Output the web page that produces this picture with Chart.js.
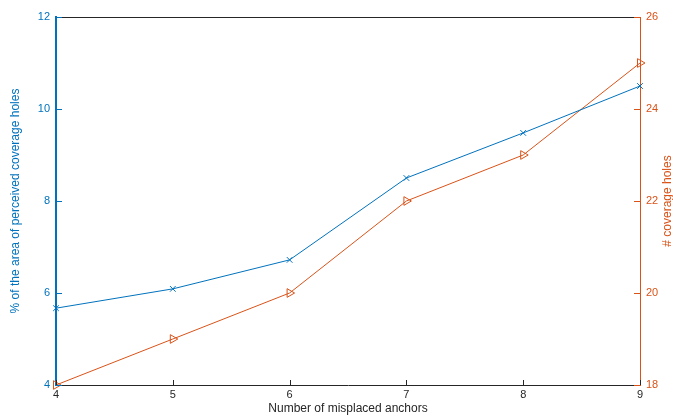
<html lang="en">
<head>
<meta charset="UTF-8">
<title>Misplaced anchors</title>
<script src="https://cdn.jsdelivr.net/npm/chart.js"></script>
<style>
  body { margin: 0; background: #fff; }
  #wrap { width: 673px; height: 416px; }
</style>
</head>
<body>
<div id="wrap"><canvas id="chart" width="673" height="416"></canvas></div>
<script>
const anchors = [4, 5, 6, 7, 8, 9];
const areaPct = [5.67, 6.09, 6.72, 8.5, 9.48, 10.5];
const holeCount = [18, 19, 20, 22, 23, 25];
const leftTicks = [4, 6, 8, 10, 12];
const rightTicks = [18, 20, 22, 24, 26];

const blue = '#0072BD';
const orange = '#D95319';
const font = { family: 'Liberation Sans, Arial, sans-serif', size: 11 };

// inner ticks, top border and right axis title
const decor = {
  id: 'decor',
  afterDraw(chart) {
    const c = chart.ctx, a = chart.chartArea, s = chart.scales;
    c.save();
    c.lineWidth = 1;
    c.strokeStyle = '#262626';
    c.beginPath();
    c.moveTo(a.left, a.top + 0.5); c.lineTo(a.right, a.top + 0.5);
    anchors.forEach(v => {
      const x = Math.round(s.x.getPixelForValue(v)) + 0.5;
      c.moveTo(x, a.bottom); c.lineTo(x, a.bottom - 5);
    });
    c.stroke();
    c.strokeStyle = blue;
    c.beginPath();
    leftTicks.forEach(v => {
      const y = Math.round(s.y.getPixelForValue(v)) + 0.5;
      c.moveTo(a.left, y); c.lineTo(a.left + 6, y);
    });
    c.stroke();
    c.strokeStyle = orange;
    c.beginPath();
    rightTicks.forEach(v => {
      const y = Math.round(s.y2.getPixelForValue(v)) + 0.5;
      c.moveTo(a.right, y); c.lineTo(a.right - 6, y);
    });
    c.stroke();
    c.fillStyle = orange;
    c.font = '12px Liberation Sans, Arial, sans-serif';
    c.textAlign = 'center';
    c.textBaseline = 'middle';
    c.translate(668, (a.top + a.bottom) / 2);
    c.rotate(-Math.PI / 2);
    c.fillText('# coverage holes', 0, 0);
    c.restore();
  }
};

new Chart(document.getElementById('chart'), {
  type: 'line',
  data: {
    datasets: [{
      data: anchors.map((x, i) => ({ x, y: areaPct[i] })),
      yAxisID: 'y',
      borderColor: blue,
      borderWidth: 1,
      pointStyle: 'crossRot',
      pointRadius: 4,
      pointBorderColor: blue,
      pointBorderWidth: 1,
      fill: false,
      clip: false
    }, {
      data: anchors.map((x, i) => ({ x, y: holeCount[i] })),
      yAxisID: 'y2',
      borderColor: orange,
      borderWidth: 1,
      pointStyle: 'triangle',
      rotation: 90,
      pointRadius: 5,
      pointBorderColor: orange,
      pointBackgroundColor: 'rgba(0,0,0,0)',
      pointBorderWidth: 1,
      fill: false,
      clip: false
    }]
  },
  options: {
    responsive: false,
    animation: false,
    layout: { padding: { top: 17, left: 0, right: 0, bottom: 0 } },
    plugins: { legend: { display: false }, tooltip: { enabled: false } },
    scales: {
      x: {
        type: 'linear', min: 4, max: 9,
        afterFit: s => { s.height = 31; },
        afterBuildTicks: s => { s.ticks = anchors.map(v => ({ value: v })); },
        grid: { display: false, drawTicks: false },
        border: { color: '#262626', width: 1 },
        ticks: { color: '#262626', font, padding: 3 },
        title: { display: true, text: 'Number of misplaced anchors', color: '#262626',
                 font: { family: font.family, size: 12 }, padding: { top: 0, bottom: 0 } }
      },
      y: {
        position: 'left', min: 4, max: 12,
        afterFit: s => { s.width = 56; },
        afterBuildTicks: s => { s.ticks = leftTicks.map(v => ({ value: v })); },
        grid: { display: false, drawTicks: false },
        border: { color: blue, width: 2 },
        ticks: { color: blue, font, padding: 6 },
        title: { display: true, text: '% of the area of perceived coverage holes', color: blue,
                 font: { family: font.family, size: 12 }, padding: { top: 8, bottom: 0 } }
      },
      y2: {
        position: 'right', min: 18, max: 26,
        afterFit: s => { s.width = 33; },
        afterBuildTicks: s => { s.ticks = rightTicks.map(v => ({ value: v })); },
        grid: { display: false, drawTicks: false },
        border: { color: orange, width: 1 },
        ticks: { color: orange, font, padding: 6 }
      }
    }
  },
  plugins: [decor]
});
</script>
</body>
</html>
